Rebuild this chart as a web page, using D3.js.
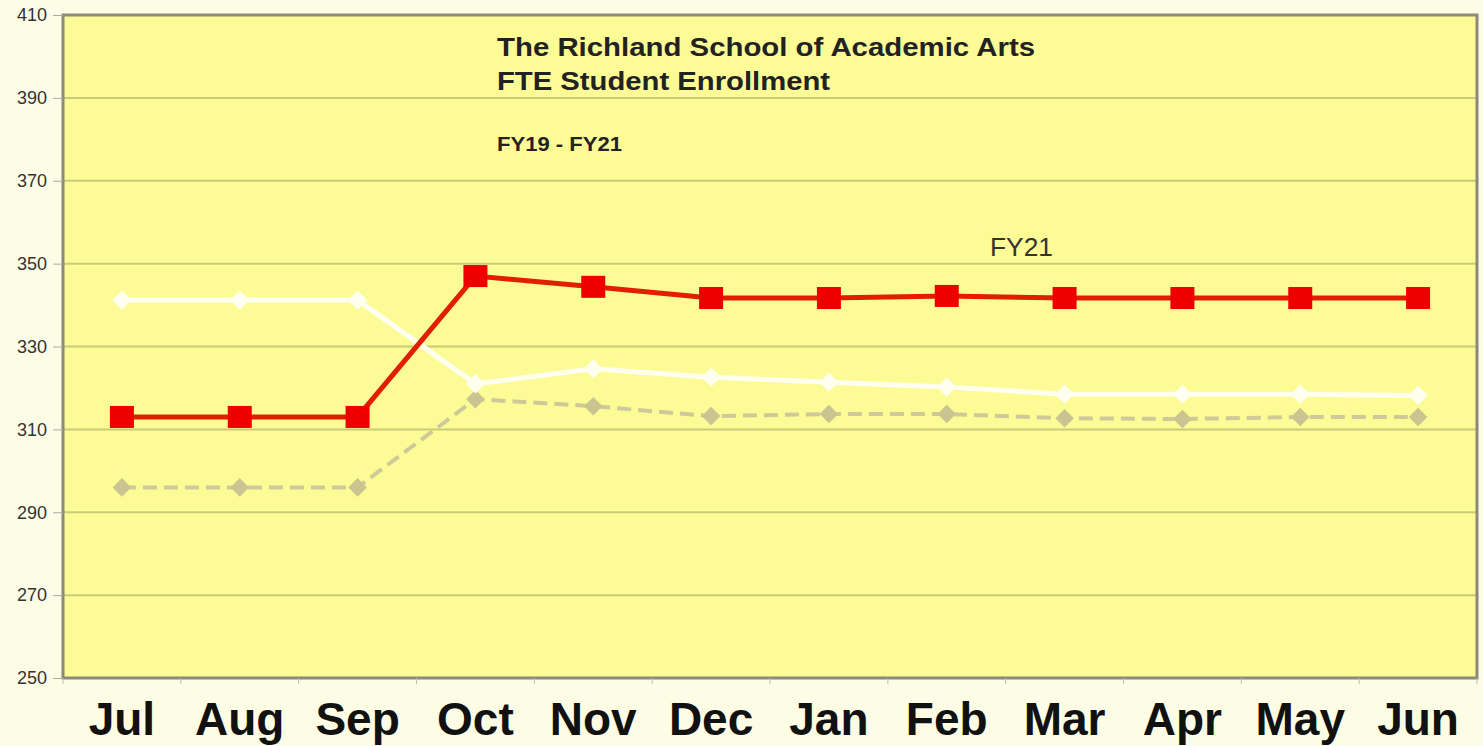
<!DOCTYPE html>
<html>
<head>
<meta charset="utf-8">
<script src="https://cdn.jsdelivr.net/npm/d3@7"></script>
<style>
  html, body { margin: 0; padding: 0; background: #fdfde6; }
  svg { display: block; }
</style>
</head>
<body>
<div id="chart"></div>
<script>
const months = ["Jul", "Aug", "Sep", "Oct", "Nov", "Dec", "Jan", "Feb", "Mar", "Apr", "May", "Jun"];
const fy19 = [296, 296, 296, 317.3, 315.6, 313.2, 313.7, 313.7, 312.7, 312.5, 313, 313];
const fy20 = [341.2, 341.2, 341.2, 321, 324.6, 322.6, 321.4, 320.2, 318.5, 318.5, 318.5, 318.2];
const fy21 = [313, 313, 313, 347, 344.4, 341.7, 341.7, 342.2, 341.7, 341.7, 341.7, 341.7];
const yTicks = [250, 270, 290, 310, 330, 350, 370, 390, 410];

const width = 1483, height = 746;
const margin = { top: 15, left: 63, bottom: 68, right: 6 };
const plotW = width - margin.left - margin.right;
const plotH = height - margin.top - margin.bottom;

const svg = d3.select("#chart").append("svg")
    .attr("width", width)
    .attr("height", height);

const g = svg.append("g")
    .attr("transform", `translate(${margin.left},${margin.top})`);

const x = d3.scaleBand().domain(months).range([0, plotW]);
const y = d3.scaleLinear().domain([250, 410]).range([plotH, 0]);
const xc = m => x(m) + x.bandwidth() / 2;

// plot background
g.append("rect")
    .attr("width", plotW)
    .attr("height", plotH)
    .attr("fill", "#fdfb96");

// gridlines
g.append("g")
    .selectAll("line")
    .data(yTicks.slice(1, -1))
    .enter().append("line")
    .attr("x1", 0).attr("x2", plotW)
    .attr("y1", d => y(d)).attr("y2", d => y(d))
    .attr("stroke", "#cbca78")
    .attr("stroke-width", 2);

// border
g.append("rect")
    .attr("width", plotW)
    .attr("height", plotH)
    .attr("fill", "none")
    .attr("stroke", "#8a8a78")
    .attr("stroke-width", 3);

// y axis
const yAxis = g.append("g")
    .call(d3.axisLeft(y).tickValues(yTicks).tickSize(10).tickPadding(6));
yAxis.select(".domain").remove();
yAxis.selectAll(".tick line").attr("stroke", "#aaa");
yAxis.selectAll("text")
    .attr("font-family", "Liberation Sans, Arial, sans-serif")
    .attr("font-size", 18)
    .attr("fill", "#333");

// x axis: ticks at band boundaries
const xAxis = g.append("g")
    .attr("transform", `translate(0,${plotH})`);
xAxis.selectAll("line")
    .data(months)
    .enter().append("line")
    .attr("x1", d => x(d)).attr("x2", d => x(d))
    .attr("y1", 0).attr("y2", 6)
    .attr("stroke", "#bbb");
xAxis.append("line")
    .attr("x1", plotW).attr("x2", plotW)
    .attr("y1", 0).attr("y2", 6)
    .attr("stroke", "#bbb");
xAxis.selectAll("text")
    .data(months)
    .enter().append("text")
    .attr("x", d => xc(d))
    .attr("y", 57)
    .attr("text-anchor", "middle")
    .attr("font-family", "Liberation Sans, Arial, sans-serif")
    .attr("font-weight", "bold")
    .attr("font-size", 46)
    .attr("fill", "#111")
    .text(d => d);

const line = d3.line()
    .x((d, i) => xc(months[i]))
    .y(d => y(d));

// FY19 - gray dashed with diamonds
g.append("path")
    .datum(fy19)
    .attr("d", line)
    .attr("fill", "none")
    .attr("stroke", "#cfc99a")
    .attr("stroke-width", 4)
    .attr("stroke-dasharray", "14,7");
g.append("g").selectAll("path")
    .data(fy19)
    .enter().append("path")
    .attr("d", d3.symbol().type(d3.symbolDiamond2).size(220))
    .attr("transform", (d, i) => `translate(${xc(months[i])},${y(d)})`)
    .attr("fill", "#c9c490");

// FY20 - white
g.append("path")
    .datum(fy20)
    .attr("d", line)
    .attr("fill", "none")
    .attr("stroke", "#fffff0")
    .attr("stroke-width", 5);
g.append("g").selectAll("path")
    .data(fy20)
    .enter().append("path")
    .attr("d", d3.symbol().type(d3.symbolDiamond2).size(240))
    .attr("transform", (d, i) => `translate(${xc(months[i])},${y(d)})`)
    .attr("fill", "#fffff0");

// FY21 - red squares
g.append("path")
    .datum(fy21)
    .attr("d", line)
    .attr("fill", "none")
    .attr("stroke", "#e21e00")
    .attr("stroke-width", 5);
g.append("g").selectAll("rect")
    .data(fy21)
    .enter().append("rect")
    .attr("x", (d, i) => xc(months[i]) - 12)
    .attr("y", d => y(d) - 11)
    .attr("width", 24)
    .attr("height", 22)
    .attr("fill", "#ee0000");

// titles
const titleFont = "Liberation Sans, Arial, sans-serif";
svg.append("text")
    .attr("x", 497).attr("y", 56)
    .attr("font-family", titleFont)
    .attr("font-weight", "bold")
    .attr("font-size", 26)
    .attr("textLength", 538)
    .attr("lengthAdjust", "spacingAndGlyphs")
    .attr("fill", "#222")
    .text("The Richland School of Academic Arts");
svg.append("text")
    .attr("x", 497).attr("y", 90)
    .attr("font-family", titleFont)
    .attr("font-weight", "bold")
    .attr("font-size", 26)
    .attr("textLength", 333)
    .attr("lengthAdjust", "spacingAndGlyphs")
    .attr("fill", "#222")
    .text("FTE Student Enrollment");
svg.append("text")
    .attr("x", 497).attr("y", 151)
    .attr("font-family", "Liberation Sans Narrow, Arial Narrow, sans-serif")
    .attr("font-weight", "bold")
    .attr("font-size", 20)
    .attr("textLength", 125)
    .attr("lengthAdjust", "spacingAndGlyphs")
    .attr("fill", "#222")
    .text("FY19 - FY21");

// series label
g.append("text")
    .attr("x", 990 - margin.left)
    .attr("y", y(350) - 8)
    .attr("font-family", titleFont)
    .attr("font-size", 25)
    .attr("textLength", 63)
    .attr("lengthAdjust", "spacingAndGlyphs")
    .attr("fill", "#333")
    .text("FY21");
</script>
</body>
</html>
